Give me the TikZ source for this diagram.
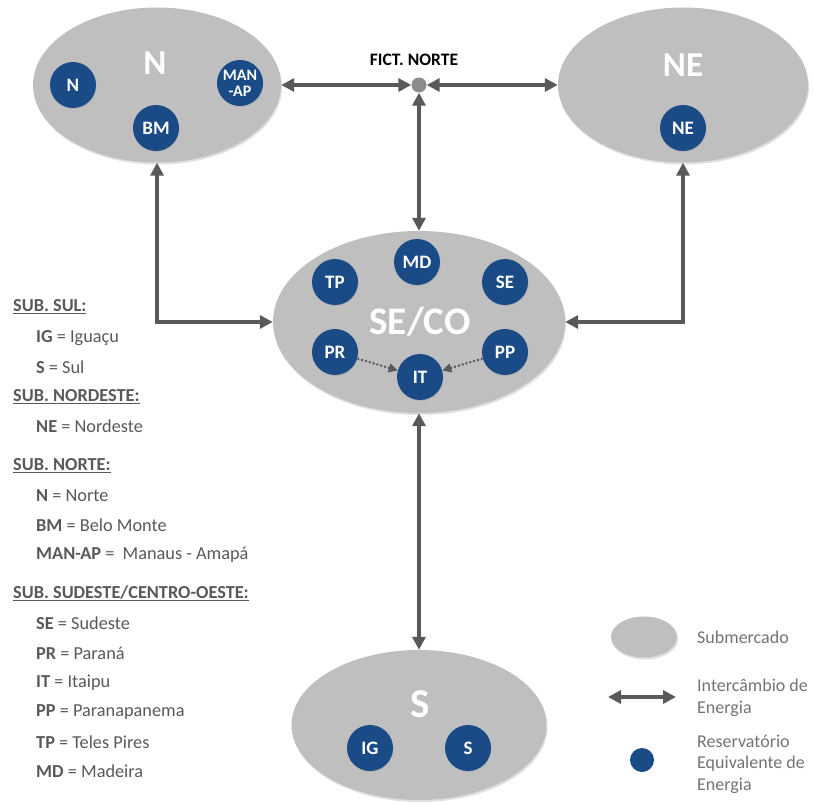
\documentclass[tikz,border=0pt]{standalone}
\usepackage{fontspec}
\setmainfont{Carlito}
\usetikzlibrary{arrows.meta,shapes.geometric,shadows}
\definecolor{ellc}{HTML}{BFBFBF}
\definecolor{resc}{HTML}{1B4B87}
\definecolor{arrc}{HTML}{595959}
\definecolor{txtc}{HTML}{595959}
\definecolor{legc}{HTML}{737373}
\definecolor{dotc}{HTML}{8C8C8C}
\begin{document}
\begin{tikzpicture}[x=1pt,y=-1pt,
  sub/.style={ellipse, fill=ellc, draw=none, inner sep=0pt,
    drop shadow={shadow xshift=1pt, shadow yshift=-2pt, opacity=0.25}},
  resv/.style={circle, fill=resc, minimum size=46pt, inner sep=0pt, text=white,
    font=\bfseries\fontsize{19}{19}\selectfont,
    drop shadow={shadow xshift=0.5pt, shadow yshift=-1pt, opacity=0.2}},
  biglab/.style={text=white, inner sep=0pt, font=\bfseries\fontsize{35}{35}\selectfont},
  xarr/.style={draw=arrc, line width=3.5pt,
    {Triangle[length=13pt,width=13pt]}-{Triangle[length=13pt,width=13pt]}},
  dotarr/.style={draw=arrc, dotted, line width=2pt,
    -{Triangle[length=9pt,width=9pt]}},
  listtxt/.style={anchor=west, inner sep=0pt, text=txtc,
    font=\fontsize{18.3}{20}\selectfont},
  legtxt/.style={anchor=west, inner sep=0pt, text=legc, align=left,
    font=\fontsize{18}{21.5}\selectfont}
]
\useasboundingbox (0,0) rectangle (814,805);

% N submarket
\node[sub, minimum width=248pt, minimum height=155pt] (nsub) at (157,85) {};
\node[biglab] (nlab) at (155,63) {N};
\node[resv] (rn) at (73,85) {N};
\node[resv, align=center, font=\bfseries\fontsize{16}{16}\selectfont] (rman) at (240,83) {MAN\\-AP};
\node[resv] (rbm) at (156,128) {BM};

% NE submarket
\node[sub, minimum width=250pt, minimum height=155pt] (nesub) at (683,85) {};
\node[biglab] (nelab) at (683,65) {NE};
\node[resv] (rne) at (683,128) {NE};

% Fictitious node
\node[circle, fill=dotc, minimum size=15pt, inner sep=0pt] (fict) at (419,85) {};
\node[inner sep=0pt, text=black, font=\bfseries\fontsize{17.5}{17.5}\selectfont] (fictlab) at (414,60) {FICT. NORTE};

% SE/CO submarket
\node[sub, minimum width=292pt, minimum height=182pt] (seco) at (419,322) {};
\node[biglab, font=\bfseries\fontsize{39}{39}\selectfont] (secolab) at (420,322) {SE/CO};
\node[resv] (rmd) at (417,262) {MD};
\node[resv] (rtp) at (335,282) {TP};
\node[resv] (rse) at (505,282) {SE};
\node[resv] (rpr) at (335,352) {PR};
\node[resv] (rpp) at (505,352) {PP};
\node[resv] (rit) at (420,377) {IT};

% S submarket
\node[sub, minimum width=255pt, minimum height=150pt] (ssub) at (419,725) {};
\node[biglab, font=\bfseries\fontsize{41}{41}\selectfont] (slab) at (420,704) {S};
\node[resv] (rig) at (370,748) {IG};
\node[resv] (rs) at (468,748) {S};

% connectors
\draw[xarr] (nsub.east) -- (fict.west);
\draw[xarr] (fict.east) -- (nesub.west);
\draw[xarr] (fict.south) -- (seco.north);
\draw[xarr] (nsub.south) |- (seco.west);
\draw[xarr] (nesub.south) |- (seco.east);
\draw[xarr] (seco.south) -- (ssub.north);
\draw[dotarr] (rpr) -- (rit);
\draw[dotarr] (rpp) -- (rit);

% list
\node[listtxt] (h1) at (13,307) {\underline{\textbf{SUB. SUL:}}};
\node[listtxt] (l1) at (36,338) {\textbf{IG} = Iguaçu};
\node[listtxt] (l2) at (36,367) {\textbf{S} = Sul};
\node[listtxt] (h2) at (13,397) {\underline{\textbf{SUB. NORDESTE:}}};
\node[listtxt] (l3) at (36,426) {\textbf{NE} = Nordeste};
\node[listtxt] (h3) at (13,466) {\underline{\textbf{SUB. NORTE:}}};
\node[listtxt] (l4) at (36,496) {\textbf{N} = Norte};
\node[listtxt] (l5) at (36,525) {\textbf{BM} = Belo Monte};
\node[listtxt] (l6) at (36,555) {\textbf{MAN-AP} =\ \ Manaus - Amapá};
\node[listtxt] (h4) at (13,593) {\underline{\textbf{SUB. SUDESTE/CENTRO-OESTE:}}};
\node[listtxt] (l7) at (36,623) {\textbf{SE} = Sudeste};
\node[listtxt] (l8) at (36,653) {\textbf{PR} = Paraná};
\node[listtxt] (l9) at (36,683) {\textbf{IT} = Itaipu};
\node[listtxt] (l10) at (36,712) {\textbf{PP} = Paranapanema};
\node[listtxt] (l11) at (36,742) {\textbf{TP} = Teles Pires};
\node[listtxt] (l12) at (36,771) {\textbf{MD} = Madeira};

% legend
\node[sub, minimum width=66pt, minimum height=41pt] (legell) at (644,637) {};
\node[legtxt] (legsub) at (697,637) {Submercado};
\coordinate (la1) at (608,697);
\coordinate (la2) at (676,697);
\draw[xarr] (la1) -- (la2);
\node[legtxt] (legarr) at (697,698) {Intercâmbio de\\Energia};
\node[circle, fill=resc, minimum size=24pt, inner sep=0pt] (legres) at (642,760) {};
\node[legtxt] (legrestxt) at (697,764) {Reservatório\\Equivalente de\\Energia};
\end{tikzpicture}
\end{document}
